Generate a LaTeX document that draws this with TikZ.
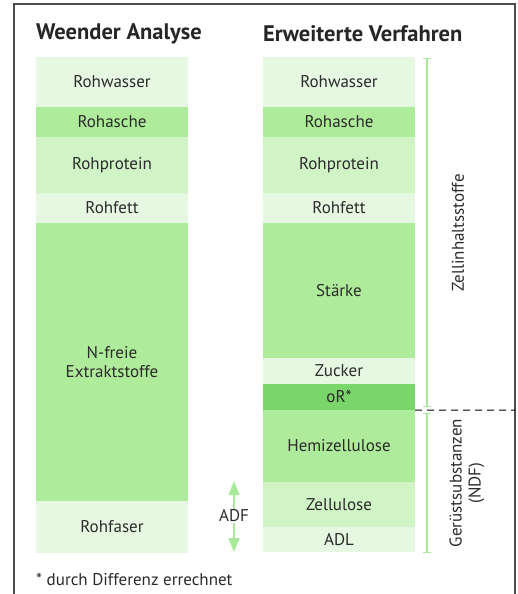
\documentclass[tikz,border=0pt]{standalone}
\usepackage{fontspec}
\setmainfont{PT Sans}
\usepackage{xcolor}
\usetikzlibrary{arrows.meta}

\definecolor{hellgruen}{HTML}{E7F8E2}
\definecolor{mittelgruen}{HTML}{AEEB9A}
\definecolor{blassgruen}{HTML}{D0F4C6}
\definecolor{dunkelgruen}{HTML}{7AD56B}
\definecolor{liniengruen}{HTML}{A9E99B}
\definecolor{textgrau}{HTML}{2B2B2B}

\tikzset{
  schicht/.style={minimum width=152pt, inner sep=0pt, text=textgrau, font=\fontsize{17}{19}\selectfont, align=center},
  titel/.style={anchor=west, inner sep=0pt, text=black!85, font=\fontsize{22.5}{24}\selectfont\bfseries},
  klammer/.style={liniengruen, line width=1.2pt, {Bar[width=8pt]}-{Bar[width=8pt]}},
}

\begin{document}
\begin{tikzpicture}[x=1pt,y=-1pt]
		\useasboundingbox (0,0) rectangle (517,594);
		\draw[line width=1.2pt, black!70](14,600)--(14,4)--(515,4)--(515,600);
		% Ueberschriften
		\node[titel] (weender) at (36,34) {Weender Analyse};
		\node[titel] (erweitert) at (263,34) {Erweiterte Verfahren};
		% linke Saeule
		\node[schicht, fill=hellgruen, minimum height=50pt] (wasserL) at (112,82) {Rohwasser};
		\node[schicht, fill=mittelgruen, minimum height=30pt] (ascheL) at (112,122) {Rohasche};
		\node[schicht, fill=blassgruen, minimum height=56pt] (proteinL) at (112,165) {Rohprotein};
		\node[schicht, fill=hellgruen, minimum height=30pt] (fettL) at (112,208) {Rohfett};
		\node[schicht, fill=mittelgruen, minimum height=278pt] (nfe) at (112,362) {N-freie\\Extraktstoffe};
		\node[schicht, fill=hellgruen, minimum height=52pt] (faser) at (112,527) {Rohfaser};
		% rechte Saeule
		\node[schicht, fill=hellgruen, minimum height=50pt] (wasserR) at (339,82) {Rohwasser};
		\node[schicht, fill=mittelgruen, minimum height=30pt] (ascheR) at (339,122) {Rohasche};
		\node[schicht, fill=blassgruen, minimum height=56pt] (proteinR) at (339,165) {Rohprotein};
		\node[schicht, fill=hellgruen, minimum height=30pt] (fettR) at (339,208) {Rohfett};
		\node[schicht, fill=mittelgruen, minimum height=135pt] (staerke) at (339,290.5) {Stärke};
		\node[schicht, fill=hellgruen, minimum height=26pt] (zucker) at (339,371) {Zucker};
		\node[schicht, fill=dunkelgruen, minimum height=26pt] (oR) at (339,397) {oR*};
		\node[schicht, fill=mittelgruen, minimum height=72pt] (hemi) at (339,446) {Hemizellulose};
		\node[schicht, fill=blassgruen, minimum height=45pt] (zell) at (339,504.5) {Zellulose};
		\node[schicht, fill=hellgruen, minimum height=25pt] (adl) at (339,539.5) {ADL};
		% Klammern rechts
		\coordinate (zellOben) at (427,58);
		\coordinate (zellUnten) at (427,407);
		\coordinate (ndfOben) at (427,413);
		\coordinate (ndfUnten) at (427,553);
		\coordinate (rand) at (515,410);
		\draw[klammer](zellOben)--(zellUnten);
		\draw[klammer](ndfOben)--(ndfUnten);
		\draw[dash pattern=on 7pt off 5pt, line width=1pt](oR.south east)--(rand);
		\node[rotate=90, text=textgrau, font=\fontsize{17}{19}\selectfont] (zellinhalt) at (458,233) {Zellinhaltsstoffe};
		\node[rotate=90, text=textgrau, align=center, font=\fontsize{17}{19}\selectfont] (geruest) at (467,483) {Gerüstsubstanzen\\(NDF)};
		% ADF Pfeil
		\node[text=textgrau, inner sep=1pt, font=\fontsize{17}{19}\selectfont] (adf) at (234,516) {ADF};
		\coordinate (adfOben) at (234,481);
		\coordinate (adfUnten) at (234,552);
		\draw[-{Triangle[width=11pt,length=14pt]}, liniengruen, line width=1.5pt](adf)--(adfOben);
		\draw[-{Triangle[width=11pt,length=14pt]}, liniengruen, line width=1.5pt](adf)--(adfUnten);
		% Fussnote
		\node[anchor=west, inner sep=0pt, text=textgrau, font=\fontsize{17}{19}\selectfont] (fussnote) at (36,580) {* durch Differenz errechnet};
		\end{tikzpicture}
\end{document}
